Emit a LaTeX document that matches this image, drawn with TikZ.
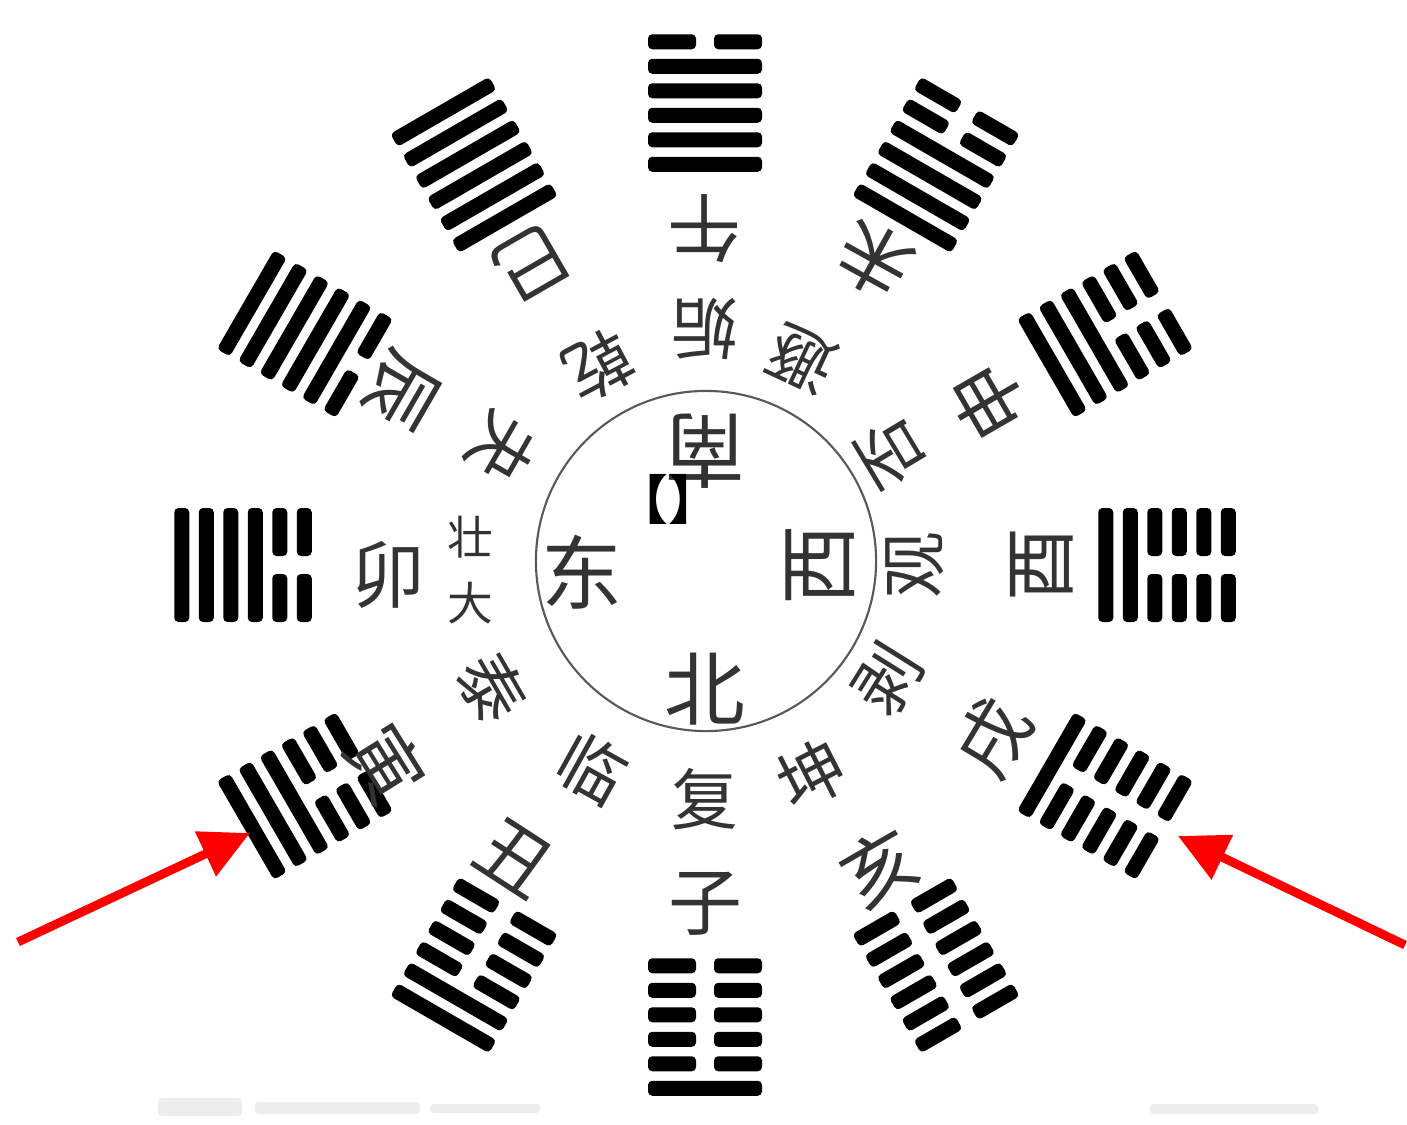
\documentclass[tikz,border=0pt]{standalone}
\usepackage{fontspec}
\newfontfamily\cjk{Noto Sans CJK SC}
\usetikzlibrary{arrows.meta}
\tikzset{
  outerlbl/.style={inner sep=0pt, font=\cjk\fontsize{21}{21}\selectfont, text=black!80},
  innerlbl/.style={inner sep=0pt, font=\cjk\fontsize{19}{19}\selectfont, text=black!80},
  dirlbl/.style={inner sep=0pt, font=\cjk\fontsize{23}{23}\selectfont, text=black!80},
  smalllbl/.style={inner sep=0pt, font=\cjk\fontsize{13}{13}\selectfont, text=black!80},
  marklbl/.style={inner sep=0pt, font=\cjk\fontsize{15}{15}\selectfont\bfseries, text=black},
  yaoline/.style={fill=black, rounded corners=1.2pt},
  ring/.style={draw=black!65, line width=0.6pt},
  redarrow/.style={draw=red, line width=2.5pt, -{Triangle[length=14pt,width=13.5pt]}},
  wmark/.style={fill=black!7, rounded corners=1pt},
}
% #1 rotation, #2 lines outer->inner (1 yang, 0 yin)
\newcommand\hexgram[2]{%
  \begin{scope}[shift={(705,565)}, rotate=#1]
    \foreach \v [count=\i] in {#2} {
      \pgfmathsetmacro\yy{462+61.25-(\i-1)*24.5}
      \ifnum\v=1
        \fill[yaoline] (-57,\yy-7.5) rectangle (57,\yy+7.5);
      \else
        \fill[yaoline] (-57,\yy-7.5) rectangle (-9,\yy+7.5);
        \fill[yaoline] (9,\yy-7.5) rectangle (57,\yy+7.5);
      \fi
    }
  \end{scope}}
% #1 name, #2 style, #3 rotation, #4 radius, #5 text
\newcommand\radlbl[5]{%
  \begin{scope}[shift={(705,565)}, rotate=#3]
    \node[#2, transform shape] (#1) at (0,#4) {#5};
  \end{scope}}

\begin{document}
\begin{tikzpicture}[x=0.01cm, y=-0.01cm]
\useasboundingbox[fill=white] (0,0) rectangle (1407,1124);

% central ring
\node[ring, circle, minimum size=340*0.2845pt, inner sep=0pt] (ring) at (706,561) {};

% hexagrams
\hexgram{0}{1,0,0,0,0,0}
\hexgram{330}{1,1,0,0,0,0}
\hexgram{300}{1,1,1,0,0,0}
\hexgram{270}{1,1,1,1,0,0}
\hexgram{240}{1,1,1,1,1,0}
\hexgram{210}{1,1,1,1,1,1}
\hexgram{180}{0,1,1,1,1,1}
\hexgram{150}{0,0,1,1,1,1}
\hexgram{120}{0,0,0,1,1,1}
\hexgram{90}{0,0,0,0,1,1}
\hexgram{60}{0,0,0,0,0,1}
\hexgram{30}{0,0,0,0,0,0}

% labels
\radlbl{zi}{outerlbl}{0}{339}{子}
\radlbl{fu}{innerlbl}{0}{234}{复}
\radlbl{bei}{dirlbl}{0}{124}{北}
\radlbl{chou}{outerlbl}{327}{349}{丑}
\radlbl{lin}{innerlbl}{331}{233}{临}
\radlbl{yinb}{outerlbl}{302}{376}{寅}
\radlbl{tai}{innerlbl}{300}{246}{泰}
\node[outerlbl] (mao) at (388,575) {卯};
\node[smalllbl] (zhuang) at (470,537) {壮};
\node[smalllbl] (da) at (470,603) {大};
\node[dirlbl] (dong) at (582,572) {东};
\radlbl{chen}{outerlbl}{240}{350}{辰}
\radlbl{guai}{innerlbl}{240}{234}{夬}
\radlbl{si}{outerlbl}{210}{349}{巳}
\radlbl{qian}{innerlbl}{208}{226}{乾}
\radlbl{wu}{outerlbl}{180}{336}{午}
\radlbl{gou}{innerlbl}{180}{236}{姤}
\radlbl{nan}{dirlbl}{180}{114}{南}
\radlbl{wei}{outerlbl}{151}{349}{未}
\radlbl{dun}{innerlbl}{155}{228}{遯}
\radlbl{shen}{outerlbl}{120}{327}{申}
\radlbl{pi}{innerlbl}{121}{217}{否}
\radlbl{you}{outerlbl}{90}{337}{酉}
\radlbl{guan}{innerlbl}{90}{210}{观}
\radlbl{xi}{dirlbl}{90}{115}{西}
\radlbl{xu}{outerlbl}{59}{336}{戌}
\radlbl{bo}{innerlbl}{58}{215}{剥}
\radlbl{hai}{outerlbl}{30}{349}{亥}
\radlbl{kun}{innerlbl}{27}{235}{坤}

\node[marklbl] (mark) at (668,499) {【】};

% red arrows
\coordinate (lefttail) at (18,942);
\coordinate (lefttip) at (250,833);
\coordinate (righttail) at (1405,945);
\coordinate (righttip) at (1178,836);
\draw[redarrow] (lefttail) -- (lefttip);
\draw[redarrow] (righttail) -- (righttip);

% faint watermark bars
\fill[wmark] (158,1098) rectangle (242,1116);
\fill[wmark] (255,1102) rectangle (420,1114);
\fill[wmark] (430,1104) rectangle (540,1113);
\fill[wmark] (1150,1104) rectangle (1318,1114);
\end{tikzpicture}
\end{document}
